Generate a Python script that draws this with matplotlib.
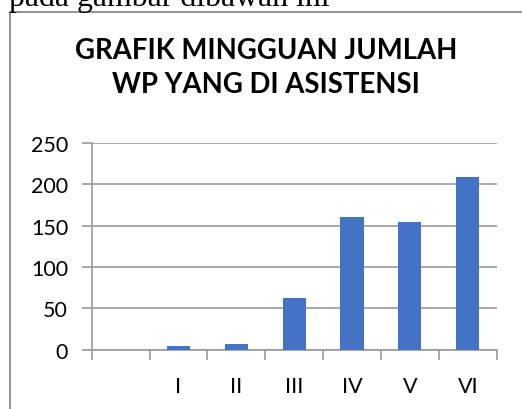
import matplotlib.pyplot as plt
from matplotlib.lines import Line2D
import numpy as np

minggu = ['', 'I', 'II', 'III', 'IV', 'V', 'VI']
jumlah_wp = [0, 5, 7, 63, 160, 154, 209]
y_ticks = [0, 50, 100, 150, 200, 250]

W, H = 522, 410
fig = plt.figure(figsize=(W / 100, H / 100), dpi=100)
ax = fig.add_axes([91.7 / W, 59.3 / H, 405 / W, 206.7 / H])

x = np.arange(len(minggu))
ax.bar(x, jumlah_wp, width=0.4, color='#4472C4', zorder=3)

grid_c = '#9a9a9a'
ax.set_ylim(0, 250)
ax.set_xlim(-0.5, len(minggu) - 0.5)
ax.set_yticks(y_ticks)
ax.set_yticklabels([str(v) for v in y_ticks], fontsize=15.5, family='Lato')
ax.yaxis.grid(True, color=grid_c, linewidth=1.2, zorder=0)

# ticks between categories, labels at category centres
ax.set_xticks(np.arange(-0.5, len(minggu)), labels=[''] * (len(minggu) + 1))
ax.set_xticks(x, labels=minggu, minor=True)
ax.tick_params(axis='x', which='major', length=7, width=1.2, color=grid_c)
ax.tick_params(axis='x', which='minor', length=0, pad=19, labelsize=15.5)
for t in ax.get_xticklabels(minor=True):
    t.set_family('Lato')
ax.tick_params(axis='y', length=7, width=1.2, color=grid_c, pad=10)

for s in ['top', 'right']:
    ax.spines[s].set_visible(False)
for s in ['left', 'bottom']:
    ax.spines[s].set_color(grid_c)
    ax.spines[s].set_linewidth(1.2)

fig.text(0.5 * (W + 10) / W, 1 - 51 / H, 'GRAFIK MINGGUAN JUMLAH', ha='center', va='center',
         fontsize=19.8, fontweight='bold', family='Lato')
fig.text(0.5 * (W + 10) / W, 1 - 85 / H, 'WP YANG DI ASISTENSI', ha='center', va='center',
         fontsize=19.8, fontweight='bold', family='Lato')

# frame of the embedded chart and the cut-off document text above it
fig.add_artist(Line2D([10 / W, 1], [1 - 12.7 / H, 1 - 12.7 / H], color='#808080', lw=1.2))
fig.add_artist(Line2D([10 / W, 10 / W], [0, 1 - 12.7 / H], color='#808080', lw=1.2))
fig.text(9 / W, 1 - 6 / H, 'pada gambar dibawah ini', ha='left', va='baseline',
         fontsize=22.9, family='Liberation Serif')

fig.savefig('out.png', dpi=100)
